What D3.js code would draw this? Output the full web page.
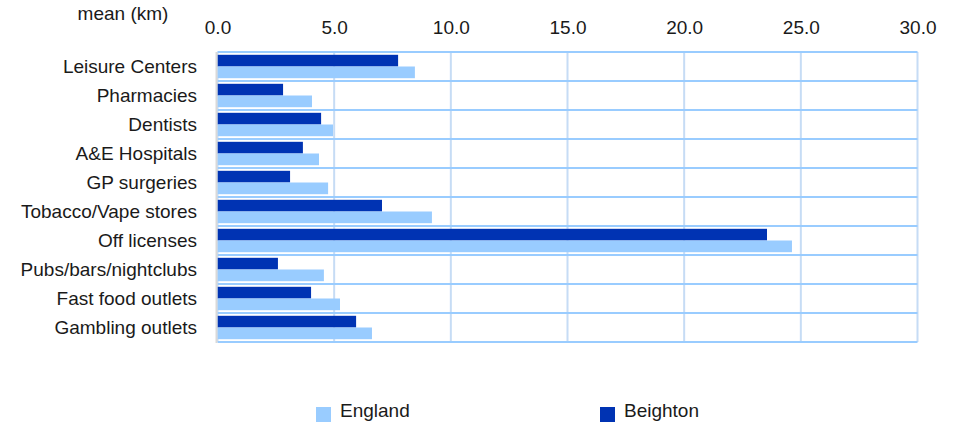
<!DOCTYPE html>
<html>
<head>
<meta charset="utf-8">
<script src="https://cdn.jsdelivr.net/npm/d3@7"></script>
<style>
  html, body { margin: 0; padding: 0; background: #fff; }
  svg { display: block; }
  text { font-family: "Liberation Sans", Arial, sans-serif; fill: #1a1a1a; }
</style>
</head>
<body>
<svg id="chart" width="955" height="422"></svg>
<script>
const categories = ["Leisure Centers", "Pharmacies", "Dentists", "A&E Hospitals", "GP surgeries",
  "Tobacco/Vape stores", "Off licenses", "Pubs/bars/nightclubs", "Fast food outlets", "Gambling outlets"];
const beighton = [7.74, 2.81, 4.44, 3.66, 3.11, 7.05, 23.55, 2.59, 4.01, 5.94];
const england = [8.46, 4.05, 4.95, 4.35, 4.74, 9.19, 24.62, 4.56, 5.25, 6.62];
const xTicks = [0, 5, 10, 15, 20, 25, 30];
const seriesNames = ["England", "Beighton"];
const axisTitle = "mean (km)";

const colors = { England: "#99ccff", Beighton: "#0033b3" };
const FONT = '"Liberation Sans", Arial, sans-serif';
const FS = 19;

const svg = d3.select("#chart");
const mLeft = 217.5, mRight = 917.5, mTop = 52, mBottom = 342;

const x = d3.scaleLinear().domain([0, 30]).range([mLeft, mRight]);
const y = d3.scaleBand().domain(categories).range([mTop, mBottom]).paddingInner(0).paddingOuter(0);
const inner = d3.scaleBand().domain(["Beighton", "England"]).range([0, y.bandwidth()]).paddingInner(0).paddingOuter(0.24);

// vertical grid lines
svg.append("g").selectAll("line").data(xTicks).join("line")
  .attr("x1", d => x(d)).attr("x2", d => x(d))
  .attr("y1", mTop).attr("y2", mBottom)
  .attr("stroke", "#c6dcf5").attr("stroke-width", 2);

// horizontal grid lines (row boundaries)
const rowEdges = categories.map(c => y(c)).concat([mBottom]);
svg.append("g").selectAll("line").data(rowEdges).join("line")
  .attr("x1", mLeft).attr("x2", mRight)
  .attr("y1", d => d).attr("y2", d => d)
  .attr("stroke", "#99ccff").attr("stroke-width", 2);

// bars
const rows = categories.map((c, i) => ({ c, Beighton: beighton[i], England: england[i] }));
const g = svg.append("g");
["Beighton", "England"].forEach(s => {
  g.selectAll("rect." + s).data(rows).join("rect")
    .attr("class", s)
    .attr("x", x(0))
    .attr("y", d => y(d.c) + inner(s))
    .attr("width", d => x(d[s]) - x(0))
    .attr("height", inner.bandwidth())
    .attr("fill", colors[s]);
});

// left axis line
svg.append("line").attr("x1", mLeft - 1).attr("x2", mLeft - 1).attr("y1", mTop).attr("y2", mBottom + 1)
  .attr("stroke", "#d9d9d9").attr("stroke-width", 2);

// top axis labels
const xAxis = d3.axisTop(x).tickValues(xTicks).tickFormat(d3.format(".1f")).tickSize(0).tickPadding(0);
const ax = svg.append("g").attr("transform", "translate(0,34)").call(xAxis)
  .attr("font-size", FS).attr("font-family", FONT);
ax.select(".domain").remove();
ax.selectAll("text").attr("fill", "#1a1a1a").attr("dy", 0);

// category labels
const yAxis = d3.axisLeft(y).tickSize(0).tickPadding(0);
const ay = svg.append("g").attr("transform", "translate(197,0)").call(yAxis)
  .attr("font-size", FS).attr("font-family", FONT);
ay.select(".domain").remove();
ay.selectAll("text").attr("fill", "#1a1a1a");

// axis title
svg.append("text").attr("x", 123).attr("y", 20).attr("text-anchor", "middle")
  .attr("font-size", FS).text(axisTitle);

// legend
const legendPos = [{ name: "England", x: 316 }, { name: "Beighton", x: 600 }];
const lg = svg.append("g").selectAll("g").data(legendPos).join("g")
  .attr("transform", d => `translate(${d.x},407)`);
lg.append("rect").attr("width", 15).attr("height", 15).attr("fill", d => colors[d.name]);
lg.append("text").attr("x", 24).attr("y", 10).attr("font-size", FS).text(d => d.name);
</script>
</body>
</html>
